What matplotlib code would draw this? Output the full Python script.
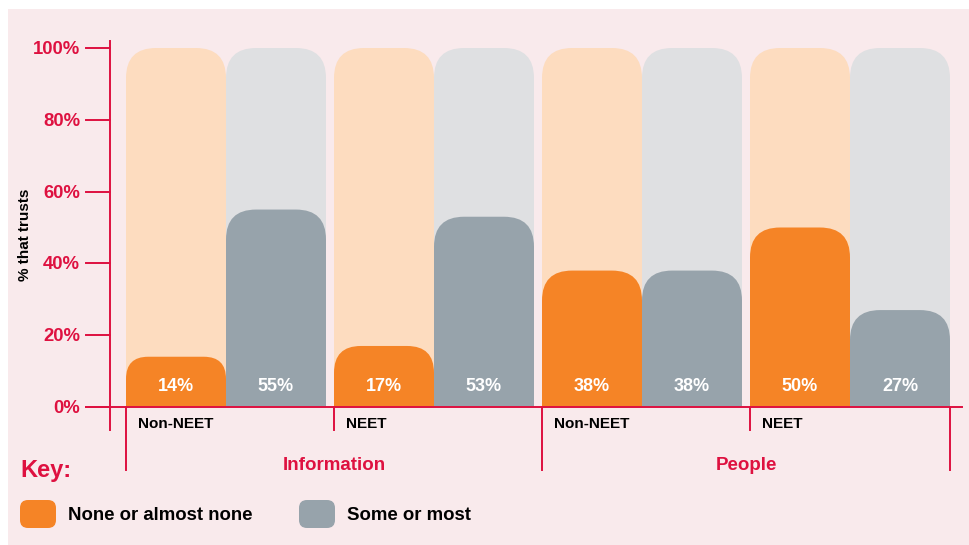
import matplotlib
matplotlib.use("Agg")
import matplotlib.pyplot as plt
from matplotlib.patches import FancyBboxPatch, Rectangle

plt.rcParams['font.family'] = ['Liberation Sans', 'DejaVu Sans']
plt.rcParams['font.weight'] = 'bold'

# data
categories = ["Information", "People"]
groups = ["Non-NEET", "NEET", "Non-NEET", "NEET"]
none_vals = [14, 17, 38, 50]
some_vals = [55, 53, 38, 27]
legend_labels = ["None or almost none", "Some or most"]
yticks = [0, 20, 40, 60, 80, 100]

CRIMSON = "#DE1140"
ORANGE = "#F58426"
ORANGE_LT = "#FDDCBF"
GREY = "#97A3AB"
GREY_LT = "#DFE0E2"
BG = "#F9EAEC"

W, H = 969, 545
fig = plt.figure(figsize=(W / 100, H / 100), dpi=100)
fig.patch.set_facecolor("white")

# overlay axes in pixel units for background and key
ax_bg = fig.add_axes([0, 0, 1, 1], zorder=0)
ax_bg.set_xlim(0, W)
ax_bg.set_ylim(H, 0)
ax_bg.axis("off")
ax_bg.add_patch(Rectangle((8, 9), W - 8, H - 9, facecolor=BG, edgecolor="none"))

# main axes: 0 at px 407, 100% at px 48
left_px, right_px, top_px, bot_px = 86, 962, 30, 407
ax = fig.add_axes([left_px / W, (H - bot_px) / H, (right_px - left_px) / W,
                   (bot_px - top_px) / H], zorder=1)
ax.set_facecolor("none")
px_per_pct = (407 - 48) / 100.0
ax.set_xlim((left_px - 126) / 100.0, (right_px - 126) / 100.0)
ax.set_ylim(0, (bot_px - top_px) / px_per_pct)
ax.axis("off")

aspect = 100.0 / px_per_pct  # px per x-unit / px per y-unit


def rounded_bar(x, h, color, r_px=30):
    r_px = min(r_px, 0.44 * h * px_per_pct)
    r = r_px / 100.0
    ry = r * aspect
    p = FancyBboxPatch((x, -ry), 1.0, h + ry,
                       boxstyle="round,pad=0,rounding_size=%f" % r,
                       mutation_aspect=aspect, facecolor=color,
                       edgecolor="none", linewidth=0)
    ax.add_patch(p)


pair_step = 2.08
for k in range(len(groups)):
    x0 = k * pair_step
    rounded_bar(x0, 100, ORANGE_LT)
    rounded_bar(x0 + 1, 100, GREY_LT)
    rounded_bar(x0, none_vals[k], ORANGE)
    rounded_bar(x0 + 1, some_vals[k], GREY)
    ax.text(x0 + 0.5, 5.8, "%d%%" % none_vals[k], color="white",
            ha="center", va="center", fontsize=13, fontweight="bold")
    ax.text(x0 + 1.5, 5.8, "%d%%" % some_vals[k], color="white",
            ha="center", va="center", fontsize=13, fontweight="bold")
    ax.text(x0 + 0.12, -4.8, groups[k], color="black", ha="left",
            va="center", fontsize=11, fontweight="bold", clip_on=False)

# axis lines
lw = 1.4
axis_x = -0.16
ax.plot([axis_x, axis_x], [-6.4, 102], color=CRIMSON, lw=lw, clip_on=False)
for t in yticks:
    ax.plot([-0.40, axis_x], [t, t], color=CRIMSON, lw=lw, clip_on=False)
    ax.text(-0.46, t - 0.4, "%d%%" % t, color=CRIMSON, ha="right", va="center",
            fontsize=13.3, fontweight="bold")
ax.plot([-0.40, 8.36], [0, 0], color=CRIMSON, lw=lw, clip_on=False)

# separators
long_x = [0, 2 * pair_step, 4 * pair_step - 0.08]
short_x = [pair_step, 3 * pair_step]
for x in long_x:
    ax.plot([x, x], [0, -17.6], color=CRIMSON, lw=lw, clip_on=False)
for x in short_x:
    ax.plot([x, x], [0, -6.4], color=CRIMSON, lw=lw, clip_on=False)

for i, cat in enumerate(categories):
    cx = (long_x[i] + long_x[i + 1]) / 2
    ax.text(cx, -16.3, cat, color=CRIMSON, ha="center", va="center",
            fontsize=13.5, fontweight="bold", clip_on=False)

# y label
ax_bg.text(25, 235, "% that trusts", rotation=90, ha="center", va="center",
           fontsize=11, fontweight="bold", color="black")

# key
ax_bg.text(20, 470, "Key:", color=CRIMSON, ha="left", va="center",
           fontsize=17, fontweight="bold")
key_x = [20, 299]
key_colors = [ORANGE, GREY]
for kx, kc, lab in zip(key_x, key_colors, legend_labels):
    ax_bg.add_patch(FancyBboxPatch((kx, 500), 36, 28,
                                   boxstyle="round,pad=0,rounding_size=8",
                                   facecolor=kc, edgecolor="none"))
    ax_bg.text(kx + 48, 516, lab, color="black", ha="left", va="center",
               fontsize=13.4, fontweight="bold")

fig.savefig("out.png", dpi=100, facecolor=fig.get_facecolor())
